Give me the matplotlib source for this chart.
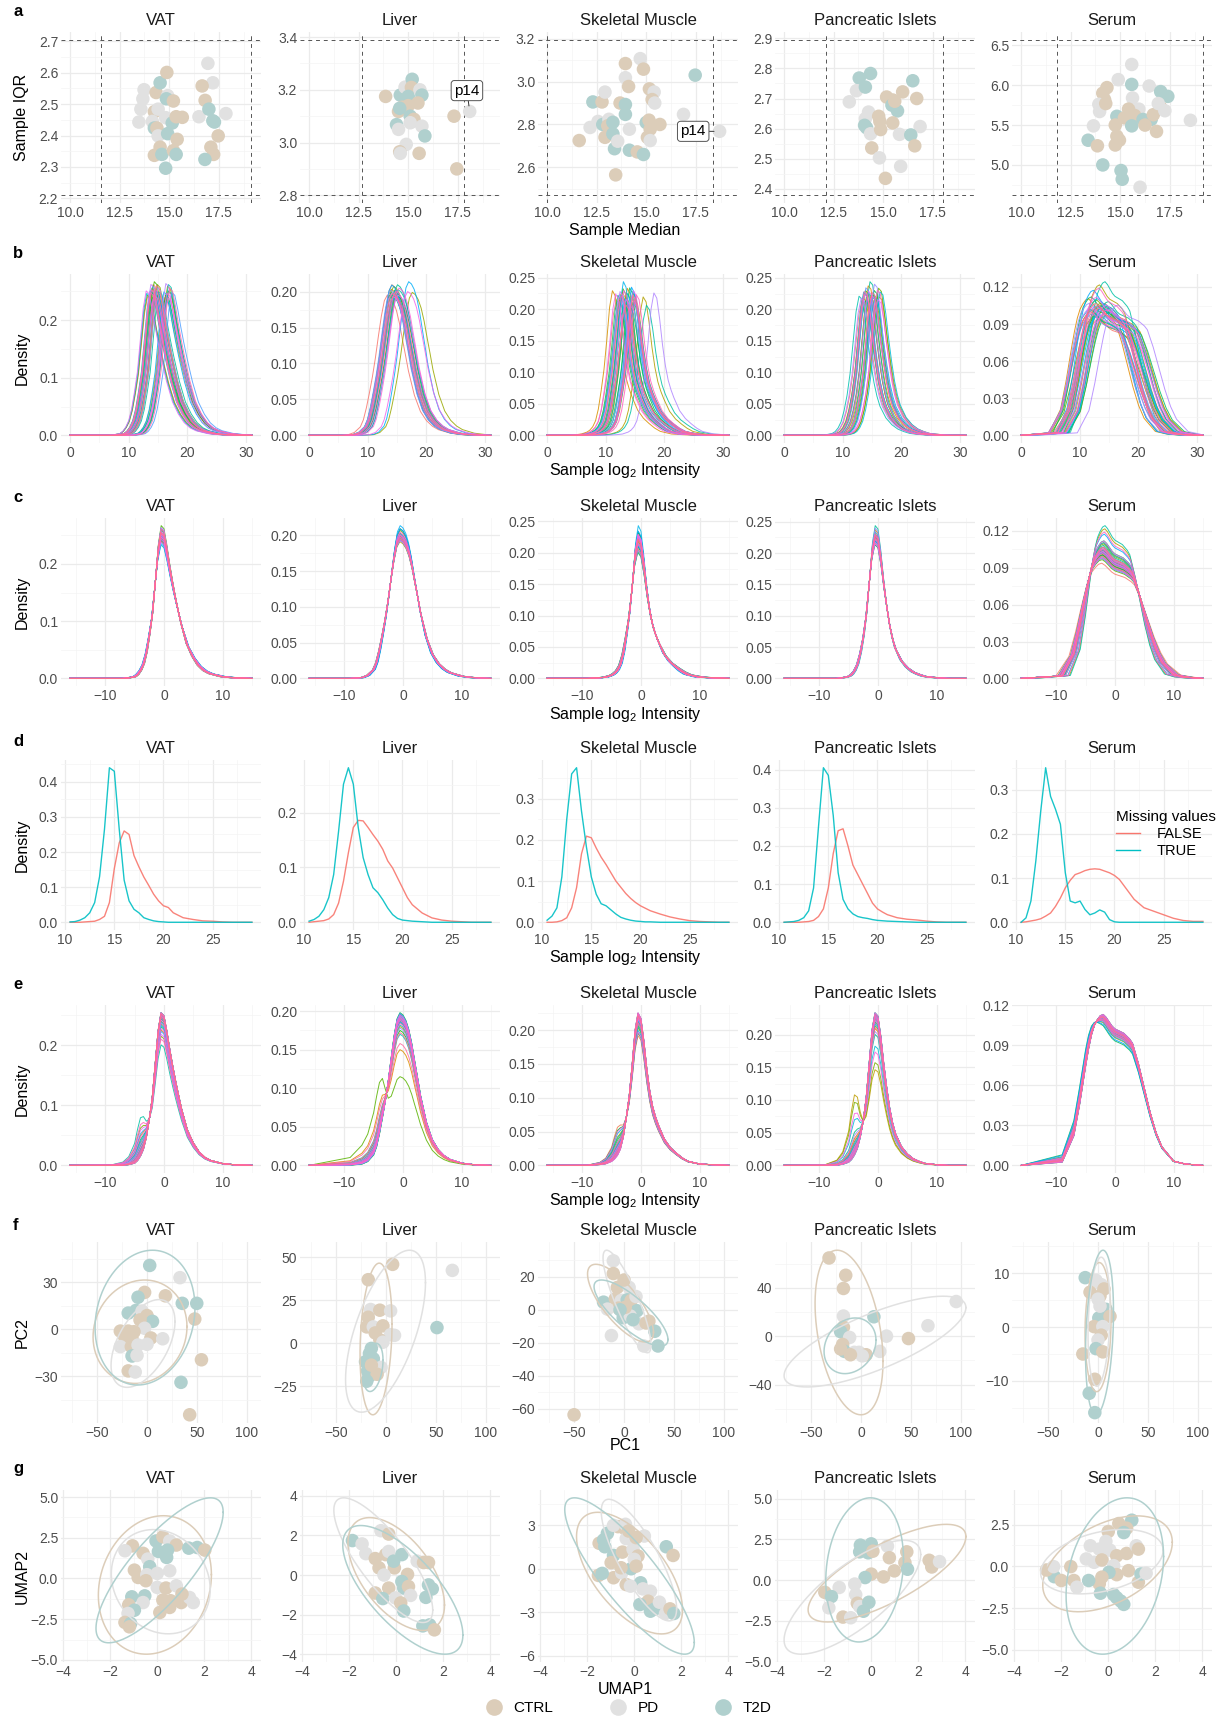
import numpy as np
import matplotlib
matplotlib.use('Agg')
import matplotlib.pyplot as plt
from matplotlib.lines import Line2D

# ---------------- data ----------------
TISSUES = ['VAT', 'Liver', 'Skeletal Muscle', 'Pancreatic Islets', 'Serum']
GROUP_COLORS = {'C': '#DCCDB9', 'P': '#E1E1E1', 'T': '#B0D0CE'}
GROUP_NAMES = ['CTRL', 'PD', 'T2D']

# a: sample median / IQR per sample
VAT_MED = [13.73, 13.67, 13.57, 13.47, 14.34, 14.54, 14.88, 14.25, 14.44, 14.15, 14.25, 14.38, 14.44, 14.54,
           14.25, 14.63, 14.82, 14.92, 14.86, 15.21, 14.82, 15.15, 14.92, 15.35, 15.66, 15.40, 15.21, 15.35,
           16.95, 17.20, 16.66, 16.81, 16.50, 17.00, 17.20, 17.28, 17.86, 17.47, 17.10, 17.24, 16.80]
VAT_IQR = [2.546, 2.517, 2.484, 2.443, 2.537, 2.568, 2.601, 2.476, 2.484, 2.445, 2.424, 2.424, 2.399, 2.363,
           2.337, 2.340, 2.296, 2.527, 2.517, 2.510, 2.457, 2.440, 2.406, 2.460, 2.458, 2.388, 2.352, 2.340,
           2.630, 2.568, 2.558, 2.512, 2.460, 2.484, 2.447, 2.443, 2.470, 2.399, 2.363, 2.340, 2.324]
VAT_GRP = list('PPPPCTCCPPTCPCCTTPTCPTTCCCCTPPCCPTTTPCCCT')

LIV_MED = [13.86, 14.60, 14.84, 15.20, 15.16, 15.00, 15.59, 15.69, 15.49, 15.00, 14.70, 14.51, 14.57, 15.10,
           15.20, 15.29, 15.10, 14.41, 14.51, 15.69, 15.84, 14.90, 14.57, 14.60, 15.55, 17.31, 18.10, 17.45]
LIV_IQR = [3.175, 3.180, 3.210, 3.240, 3.209, 3.175, 3.200, 3.180, 3.150, 3.140, 3.134, 3.118, 3.130, 3.100,
           3.080, 3.088, 3.075, 3.068, 3.050, 3.062, 3.025, 2.993, 2.965, 2.959, 2.959, 3.100, 3.118, 2.900]
LIV_GRP = list('CTPTCTPTCCCCTTPCPTPPTPCPCCPC')

SKM_MED = [12.31, 12.77, 12.92, 12.17, 11.62, 12.57, 12.81, 13.12, 13.06, 13.32, 12.92, 13.32, 13.40, 13.46,
           13.56, 13.95, 14.70, 14.86, 13.95, 14.11, 13.68, 13.95, 13.95, 15.16, 15.40, 15.30, 15.43, 14.15,
           15.00, 15.14, 15.20, 15.06, 15.20, 14.15, 14.55, 14.86, 15.69, 16.88, 17.47, 18.70]
SKM_IQR = [2.905, 2.905, 2.951, 2.786, 2.725, 2.814, 2.800, 2.824, 2.794, 2.810, 2.740, 2.756, 2.687, 2.565,
           2.722, 3.084, 3.107, 3.058, 3.018, 2.977, 2.900, 2.893, 2.847, 2.966, 2.951, 2.916, 2.900, 2.778,
           2.809, 2.820, 2.778, 2.740, 2.725, 2.680, 2.672, 2.660, 2.800, 2.847, 3.030, 2.768]
SKM_GRP = list('TCPPCPTPCTCTTCPCPCPCCTTCPCPPTCCCPTCTCPTP')

PAN_MED = [13.79, 14.36, 13.65, 14.10, 13.29, 14.26, 14.10, 14.06, 14.16, 14.36, 14.42, 14.77, 14.83, 14.87,
           15.17, 15.48, 15.44, 15.72, 15.98, 15.48, 15.82, 15.88, 14.81, 15.11, 16.49, 16.69, 16.86, 16.39,
           16.59, 15.58]
PAN_IQR = [2.768, 2.783, 2.726, 2.738, 2.689, 2.655, 2.633, 2.611, 2.603, 2.583, 2.536, 2.641, 2.624, 2.597,
           2.705, 2.695, 2.678, 2.659, 2.722, 2.619, 2.581, 2.475, 2.503, 2.435, 2.759, 2.700, 2.607, 2.579,
           2.543, 2.691]
PAN_GRP = list('TTPTPPPTTPCCCCCCTTCCPPPCTCPTCC')

SER_MED = [15.58, 14.90, 15.58, 16.46, 17.04, 17.40, 14.33, 14.12, 14.21, 13.92, 13.96, 14.27, 15.62, 15.94,
           15.42, 15.73, 15.52, 14.83, 15.21, 15.58, 16.15, 16.56, 16.25, 16.67, 17.04, 16.92, 17.25, 16.83,
           13.65, 14.75, 14.83, 14.96, 14.75, 13.38, 13.85, 14.12, 15.04, 15.10, 16.00, 18.54]
SER_IQR = [6.26, 6.07, 6.01, 5.99, 5.92, 5.86, 5.97, 5.90, 5.82, 5.76, 5.67, 5.77, 5.84, 5.70, 5.70, 5.62,
           5.59, 5.61, 5.59, 5.49, 5.57, 5.57, 5.50, 5.63, 5.72, 5.77, 5.68, 5.42, 5.49, 5.50, 5.36, 5.31,
           5.25, 5.31, 5.24, 5.00, 4.93, 4.82, 4.72, 5.56]
SER_GRP = list('PPTPTTCCCPPCPPCCCTCTTTCCCPPCPCCCCTCTTTPP')

A_MED = [VAT_MED, LIV_MED, SKM_MED, PAN_MED, SER_MED]
A_IQR = [VAT_IQR, LIV_IQR, SKM_IQR, PAN_IQR, SER_IQR]
A_GRP = [VAT_GRP, LIV_GRP, SKM_GRP, PAN_GRP, SER_GRP]
A_VLINES = [(11.55, 19.1), (12.65, 17.8), (10.0, 18.36), (12.13, 18.01), (11.83, 19.17)]
A_HLINES = [(2.21, 2.705), (2.80, 3.39), (2.47, 3.195), (2.379, 2.895), (4.62, 6.57)]
A_OUTLIER = [None, 26, 39, None, None]   # index of sample p14
A_XT = [10, 12.5, 15, 17.5]
A_YT = [[2.2, 2.3, 2.4, 2.5, 2.6, 2.7], [2.8, 3.0, 3.2, 3.4], [2.6, 2.8, 3.0, 3.2],
        [2.4, 2.5, 2.6, 2.7, 2.8, 2.9], [5.0, 5.5, 6.0, 6.5]]

# b/c/e: density shape of a sample around its median
XC = [-16, -9, -7, -6, -5, -4.5, -4, -3.5, -3, -2.5, -2, -1.5, -1, -0.5, 0, 0.5, 1, 1.5, 2, 2.5, 3,
      4, 5, 6, 7, 8, 10, 12, 15]
T_VAT = [0, 0, 0, 0.001, 0.003, 0.007, 0.014, 0.025, 0.045, 0.075, 0.11, 0.165, 0.22, 0.25, 0.245, 0.22,
         0.19, 0.163, 0.138, 0.115, 0.093, 0.058, 0.037, 0.022, 0.013, 0.008, 0.003, 0.001, 0]
T_LIV = [0, 0, 0.001, 0.004, 0.012, 0.022, 0.039, 0.06, 0.083, 0.11, 0.141, 0.17, 0.192, 0.2, 0.197, 0.19,
         0.178, 0.16, 0.137, 0.115, 0.092, 0.057, 0.034, 0.021, 0.013, 0.008, 0.003, 0.001, 0]
T_SKM = [0, 0, 0.001, 0.002, 0.005, 0.008, 0.013, 0.022, 0.04, 0.068, 0.1, 0.145, 0.195, 0.22, 0.212, 0.18,
         0.14, 0.108, 0.085, 0.07, 0.058, 0.038, 0.026, 0.018, 0.011, 0.006, 0.002, 0.001, 0]
T_PAN = [0, 0, 0, 0.001, 0.003, 0.006, 0.012, 0.022, 0.04, 0.065, 0.1, 0.15, 0.2, 0.225, 0.22, 0.19, 0.15,
         0.115, 0.085, 0.063, 0.047, 0.028, 0.017, 0.01, 0.006, 0.003, 0.001, 0, 0]
T_SER = [0, 0.002, 0.02, 0.042, 0.068, 0.08, 0.09, 0.097, 0.101, 0.104, 0.105, 0.103, 0.1, 0.097, 0.095,
         0.094, 0.093, 0.092, 0.09, 0.088, 0.085, 0.071, 0.054, 0.037, 0.023, 0.013, 0.003, 0.001, 0]
TEMPLATES = [T_VAT, T_LIV, T_SKM, T_PAN, T_SER]

# e: imputed low-intensity bump (shape) and bump height per sample
B_STD = [0, 0.01, 0.08, 0.2, 0.5, 0.8, 1.0, 0.9, 0.55, 0.25, 0.1, 0.03, 0.01] + [0] * 16
B_LIV = [0, 0.12, 0.3, 0.45, 0.72, 0.9, 1.0, 0.92, 0.6, 0.28, 0.1, 0.03, 0.01] + [0] * 16
B_SER = [0, 0.3, 0.7, 0.9, 1.0, 0.95, 0.8, 0.6, 0.4, 0.2, 0.08, 0.02, 0] + [0] * 16
E_BUMPSHAPE = [B_STD, B_LIV, B_STD, B_STD, B_SER]
E_BUMP_VAT = [0.003, 0.01, 0.002, 0.024, 0.006, 0.037, 0.001, 0.014, 0.004, 0.018, 0.05, 0.002, 0.01,
              0.007, 0.03, 0.002, 0.013, 0.005, 0.068, 0.02, 0.003, 0.009, 0.027, 0.001, 0.012, 0.006,
              0.04, 0.002, 0.022, 0.008, 0.002, 0.016, 0.046, 0.004, 0.034, 0.001, 0.056, 0.007, 0.011, 0.003]
E_BUMP_LIV = [0.012, 0.004, 0.008, 0.05, 0.02, 0.003, 0.015, 0.006, 0.01, 0.085, 0.025, 0.002, 0.013,
              0.005, 0.018, 0.009, 0.03, 0.004, 0.011, 0.007, 0.014, 0.003, 0.022, 0.006, 0.01, 0.008,
              0.016, 0.005, 0.012, 0.009, 0.042, 0.028]
E_BUMP_SKM = [0.01, 0.045, 0.004, 0.02, 0.007, 0.03, 0.002, 0.015, 0.012, 0.005, 0.025, 0.003, 0.04, 0.009,
              0.018, 0.006, 0.028, 0.002, 0.013, 0.008, 0.035, 0.004, 0.016, 0.01, 0.022, 0.003, 0.006,
              0.014, 0.001, 0.009, 0.038, 0.005, 0.011, 0.002, 0.02, 0.007]
E_BUMP_PAN = [0.02, 0.006, 0.012, 0.03, 0.004, 0.1, 0.015, 0.008, 0.088, 0.025, 0.01, 0.003, 0.018, 0.04,
              0.006, 0.012, 0.005, 0.06, 0.009, 0.022, 0.004, 0.014, 0.007, 0.035, 0.01, 0.003, 0.016, 0.07,
              0.008, 0.012, 0.005, 0.028]
E_BUMP_SER = [0.004, 0.01, 0.002, 0.006, 0.015, 0.003, 0.008, 0.001, 0.012, 0.005, 0.002, 0.009, 0.004,
              0.02, 0.006, 0.003, 0.011, 0.007, 0.002, 0.014, 0.005, 0.008, 0.001, 0.018, 0.004, 0.006,
              0.003, 0.01, 0.002, 0.007, 0.005, 0.012, 0.001, 0.009, 0.004, 0.006]
E_BUMPS = [E_BUMP_VAT, E_BUMP_LIV, E_BUMP_SKM, E_BUMP_PAN, E_BUMP_SER]
E_BASE = [1.02, 1.0, 1.03, 1.05, 1.08]
E_K = [3.2, 5.0, 3.5, 4.0, 5.0]

BC_YT = [[0, 0.1, 0.2], [0, 0.05, 0.10, 0.15, 0.20], [0, 0.05, 0.10, 0.15, 0.20, 0.25],
         [0, 0.05, 0.10, 0.15, 0.20, 0.25], [0, 0.03, 0.06, 0.09, 0.12]]
E_YT = [[0, 0.1, 0.2], [0, 0.05, 0.10, 0.15, 0.20], [0, 0.05, 0.10, 0.15, 0.20],
        [0, 0.05, 0.10, 0.15, 0.20], [0, 0.03, 0.06, 0.09, 0.12]]

# d: density of proteins with / without missing values
XD = [10.5, 11, 11.5, 12, 12.5, 13, 13.5, 14, 14.5, 15, 15.5, 16, 16.5, 17, 17.5, 18, 18.5, 19, 19.5, 20,
      20.5, 21, 22, 23, 24, 25, 26, 27, 28, 29]
D_TRUE = [
    [0.001, 0.002, 0.006, 0.013, 0.027, 0.056, 0.13, 0.265, 0.44, 0.43, 0.265, 0.12, 0.061, 0.037, 0.027,
     0.013, 0.008, 0.004, 0.002, 0.001, 0, 0, 0, 0, 0, 0, 0, 0, 0, 0],
    [0.002, 0.005, 0.011, 0.023, 0.045, 0.087, 0.166, 0.252, 0.282, 0.252, 0.173, 0.118, 0.087, 0.063, 0.054,
     0.041, 0.026, 0.014, 0.007, 0.004, 0.003, 0.002, 0.001, 0, 0, 0, 0, 0, 0, 0],
    [0.005, 0.015, 0.035, 0.11, 0.25, 0.36, 0.375, 0.27, 0.183, 0.11, 0.068, 0.045, 0.04, 0.03, 0.02, 0.012,
     0.008, 0.005, 0.003, 0.002, 0.001, 0.001, 0, 0, 0, 0, 0, 0, 0, 0],
    [0, 0.001, 0.002, 0.005, 0.012, 0.03, 0.09, 0.25, 0.405, 0.385, 0.28, 0.13, 0.06, 0.035, 0.022, 0.015,
     0.012, 0.01, 0.007, 0.005, 0.004, 0.003, 0.002, 0.001, 0, 0, 0, 0, 0, 0],
    [0, 0.01, 0.048, 0.139, 0.252, 0.35, 0.285, 0.256, 0.222, 0.112, 0.048, 0.044, 0.048, 0.029, 0.017,
     0.021, 0.028, 0.023, 0.006, 0.001, 0, 0, 0, 0, 0, 0, 0, 0, 0, 0],
]
D_FALSE = [
    [0, 0, 0, 0.001, 0.002, 0.003, 0.008, 0.017, 0.056, 0.153, 0.226, 0.26, 0.25, 0.19, 0.158, 0.129, 0.105,
     0.08, 0.061, 0.047, 0.042, 0.027, 0.013, 0.008, 0.004, 0.003, 0.001, 0, 0, 0],
    [0, 0.001, 0.002, 0.003, 0.006, 0.014, 0.035, 0.075, 0.127, 0.173, 0.186, 0.185, 0.173, 0.16, 0.148,
     0.133, 0.112, 0.099, 0.081, 0.063, 0.045, 0.032, 0.017, 0.008, 0.004, 0.002, 0.001, 0, 0, 0],
    [0, 0, 0.001, 0.004, 0.011, 0.035, 0.084, 0.166, 0.209, 0.205, 0.18, 0.158, 0.14, 0.12, 0.1, 0.085, 0.07,
     0.058, 0.048, 0.04, 0.034, 0.028, 0.02, 0.013, 0.008, 0.004, 0.002, 0.001, 0, 0],
    [0, 0, 0, 0, 0.001, 0.002, 0.005, 0.015, 0.035, 0.09, 0.18, 0.24, 0.245, 0.2, 0.15, 0.125, 0.1, 0.075,
     0.05, 0.035, 0.027, 0.02, 0.012, 0.008, 0.006, 0.003, 0.001, 0, 0, 0],
    [0, 0.001, 0.003, 0.005, 0.008, 0.014, 0.021, 0.036, 0.055, 0.078, 0.095, 0.108, 0.112, 0.117, 0.12,
     0.121, 0.12, 0.116, 0.112, 0.106, 0.097, 0.082, 0.052, 0.033, 0.025, 0.017, 0.009, 0.004, 0.002, 0.002],
]
D_YT = [[0, 0.1, 0.2, 0.3, 0.4], [0, 0.1, 0.2], [0, 0.1, 0.2, 0.3], [0, 0.1, 0.2, 0.3, 0.4], [0, 0.1, 0.2, 0.3]]

# f: PCA
F_PC1 = [
    [2.7, 33, -2.4, -9, 18.4, 35.3, 49.8, -18.8, -11, -5, 0, 5.5, -7, -2.4, -26.7, -18.8, -13, -22.7, -15, 3.9,
     15.7, 47.8, -26.7, -15.7, -9, 0, -15, -10, 54.5, -18.8, -11.8, 34, 42.7],
    [6.6, -17.8, 66.4, -15.4, -6.2, 4.6, -17.8, -19.3, -12.7, -3.1, -10.8, 4.6, 8.5, -6.2, -3.1, 51, -14.7,
     -16.6, -12.7, -20.5, -14.7, -18.5, -10.8, -5, -16.6, -8.9, -19.3, -14.7],
    [-10.7, -10.7, -6.7, 5.1, -20.5, -8.7, -2.8, 3.2, 7.1, 13, -0.8, 6.3, 15, 22, 24.9, 30.8, 34, -12.6, 19.8,
     -5.5, -16.6, 1.2, -50, 0, -4, 9, 12],
    [-32, -15.3, -17.6, -17.6, -17.6, -20.4, 12.9, -11.4, 25.5, 47.5, 67, 95.3, -18.4, -16.5, -6.7, -2, 5.1,
     1.2, 18.8, -10.6, -20.4],
    [-12.8, -2, 3.2, -8, 6, 2, 0, 8, 0.8, 12, -4, 4.8, 3.2, 0, -2, 4.8, -15.2, -3.2, -8.8, -3.2, 2],
]
F_PC2 = [
    [40.8, 33, 23.6, 20.5, 21.4, 16.6, 16.6, 10.4, 12.1, 11.7, 8.8, 5.1, 6, 0.7, -1.1, -1.1, -1.5, -4.4, -6,
     -5.5, -6, 6.6, -11, -11, -10, -9.5, -17, -16.6, -19.4, -26.5, -27.2, -33.8, -54.5],
    [45.8, 36.9, 42.3, 19.6, 19.2, 18.8, 15.1, 9.5, 9.5, 10.1, 6, 5, 4.6, 2, 0.6, 9.1, -3, -6, -9, -10.7,
     -13.5, -16, -17.5, -14, -19, -18, -22, -12.7],
    [29.6, 21.9, 13.5, 13.5, 4.6, 6.7, 5.6, 6, 5.6, -0.6, -4.8, -3.75, -8.5, -8, -6.9, -13, -21.9, -15.6,
     -21.9, 1, 0.4, 1.5, -63.5, 18, 0, -6, 8],
    [64.6, 50.3, 39.4, 16.6, 7.4, 3.7, 16, -1.1, 0, -2, 8.6, 28.6, -6.9, -12.6, -13.4, -13.4, -15.4, -16.3,
     -12.6, -15.4, -10.6],
    [9.2, 8.7, 7.9, 6.5, 7.1, 5.8, 5.2, 3.3, 1.7, 2, 0.1, 0.1, -1.5, -2.4, -4, -4.6, -5, -9.7, -12.3, -15.9, 3.9],
]
F_GRP = [list('TPCTCTTTTPCTCPCCCCCCPCPCPPTPCCPTC'), list('CCPPCPCCPCCPPCPTTTTTTTCPTCTC'),
         list('PCCPTCPTCTTPPCCTTPPCPCCCTTP'), list('CCCPCTTPPCPPCTPPCPPCC'),
         list('TPPCCCPTTCCPCPTCCCTTP')]
# ellipses: centre x, centre y, half-width, half-height, tilt (order CTRL, PD, T2D)
F_ELL = [
    [(-7, -1.5, 47, 33, 0.1), (-4, -9, 32, 28, 0.5), (-2, 7.5, 50, 43, 0.15)],
    [(-10, 2.5, 16, 44, 0.2), (-0.5, 7, 40, 47, 0.6), (-13, -14, 10, 14, 0.3)],
    [(-3.5, 4, 33, 23.5, -0.75), (3, 5, 24, 31, -0.85), (7, -2, 37, 20, -0.8)],
    [(-12, 3, 34, 68, -0.35), (14, -4.5, 91, 37.5, 0.75), (-11, -8, 26, 23, 0.2)],
    [(0, 0, 13, 12, 0.1), (1, 1, 11, 12, 0.2), (1.5, -1, 14, 15.3, 0.25)],
]
F_XT = [-50, 0, 50, 100]
F_YT = [[-30, 0, 30], [-25, 0, 25, 50], [-60, -40, -20, 0, 20], [-40, 0, 40], [-10, 0, 10]]

# g: UMAP
G_U1 = [
    [-1.05, -1.37, -0.6, -0.4, -0.05, 0.24, 0.53, 0.81, 0.05, 0.44, 0.4, -0.32, -0.97, -0.81, -0.44, -0.48, 0,
     0.53, 1.34, 1.7, 2.02, 0, 0.37, 0.81, -1.08, -0.53, -0.6, 0.24, 0.57, 1.02, 1.37, 1.53, 1.05, -1.21,
     -0.97, 0.11, 0.53, -1.24, -1.37, -1.13, -1.18],
    [-1.86, -1.45, -1.29, -0.65, -0.32, -0.89, -0.73, -0.45, -0.32, -0.08, -0.11, 0.24, -0.52, 0.48, 0.24,
     0.32, 0.52, 0.61, -0.32, -0.89, -0.57, -0.03, 0.19, 0.32, 0.89, 1.16, 1.37, 1.37, 1.53, 1.26, 1.13,
     1.42, 1.62],
    [-1.49, -1.3, -1.14, -1.25, -0.88, -0.69, -0.4, -0.34, -0.5, -0.98, -0.88, -0.53, -1.52, -1.36, -0.34,
     -0.13, -0.88, -0.37, -0.24, 0.43, -0.05, 0.08, 0.16, 0, -0.56, 0.08, 1.36, 1.65, 0.27, -0.16, 0.37,
     0.69, 0.59, 0.24, 0.69, 0.88, 1.07, 1.33, 1.52, 1.68],
    [-0.46, 0, -0.49, -0.13, 0.07, 0.69, 1.51, 0.77, 1.43, 1.54, 2.46, 2.57, 2.9, 0, 0.52, 0.98, -0.26, -1.36,
     -1.97, -1.69, -0.7, -0.66, -0.59, -0.49, -0.1, -0.33, -1.8, -1.2, -0.87],
    [1.0, 0.45, 0.78, 0.66, 0, -0.1, -0.76, -0.38, 0.07, 0.36, 0.78, 1.19, 1.28, -0.93, -0.6, -0.27, 0.23,
     0.86, 0.36, 0.03, -0.27, -0.38, -0.83, -2.29, -2.62, -2.32, -1.59, -1.99, -1.46, -1.33, -0.33, 0.23,
     0.36, 0.53, 0.66, 1.28, 1.39, 1.61],
]
G_U2 = [
    [2.0, 1.7, 1.54, 1.19, 2.3, 2.56, 2.3, 2.05, 1.66, 1.74, 1.29, 0.72, 0.51, 0.06, 0.23, -0.14, 0.31, 0.47,
     1.86, 1.9, 1.74, -0.55, -0.59, -0.45, -1.13, -1.07, -1.48, -1.33, -1.37, -1.48, -1.17, -1.48, -0.96,
     -1.62, -1.95, -2.09, -1.78, -2.15, -2.7, -2.77, -2.97],
    [1.74, 1.57, 1.08, 2.24, 2.07, 0.83, 0.36, 1.03, 1.19, 0.36, 0.7, 1.03, 0, 0.03, -0.33, -0.66, -0.58,
     -1.03, -0.66, -0.91, -1.19, -1.16, -1.41, -1.82, 0.7, 0.63, 0.63, -0.5, -0.7, -1.13, -2.57, -2.52, -2.77],
    [1.76, 1.99, 2.45, 1.52, 0.92, 2.91, 2.77, 2.08, 1.15, 0.42, -0.62, -0.28, -0.46, -0.32, -1.09, 0, 3.0,
     3.07, 2.61, 2.26, 1.34, 2.15, 0.88, 0.65, 0.07, 0.18, 1.52, 0.92, -0.97, -1.2, -1.39, -1.55, -2.24,
     -2.47, -2.93, -2.77, -2.31, -3.09, -2.77, -3.09],
    [2.15, 2.23, 1.74, 1.68, 1.78, 2.09, 1.74, 1.38, 1.08, 0.67, 1.22, 0.81, 1.14, 0.37, 0.2, 0.57, 0.16,
     -0.45, -0.75, -1.01, -0.24, -0.89, -1.42, -1.62, -1.36, -1.91, -1.7, -2.27, -2.31],
    [2.76, 2.56, 2.28, 2.02, 2.08, 1.49, 1.23, 1.03, 0.97, 0.63, 0.77, 1.23, 1.03, 0.44, 0.24, 0.38, 0.04,
     -0.26, -0.5, -0.36, -0.65, -1.05, -0.85, -0.62, -0.22, -0.02, -0.02, -0.85, -0.85, -1.25, -1.61, -1.69,
     -1.88, -2.08, -2.28, -0.95, -0.46, -0.42],
]
G_GRP = [list('CPCPTCPCTTTTCCPCPPTTCPCPTTPCCCPPCCTCCPCTC'), list('TPPPCCCCPCTTPCTTCPCCTPCTPCCTTTTTC'),
         list('CTTTTCCPCCCPCTCTPPCPPCCPCCTCTPPPCTTTPPCT'), list('TTTTCPCCCTCCPCCCTPCTPPCPTTPCP'),
         list('TCCTCPPPPCCPCPPCPCCTCCTTCPCCCPTTTTTCTP')]
G_ELL = [
    [(-0.1, -0.4, 2.4, 4.25, 0.15), (0.15, -0.2, 2.1, 3.2, -0.15), (0.1, 0.5, 2.7, 4.45, 0.8)],
    [(0, 0.05, 2.05, 2.85, -0.55), (-0.55, 0.75, 2.1, 3.15, -0.8), (0.28, -0.75, 2.55, 3.25, -0.7)],
    [(-0.2, -0.3, 2.25, 4.2, -0.6), (0.2, 0.6, 1.6, 4.2, -0.8), (-0.2, -0.5, 2.75, 5.4, -0.85)],
    [(0.67, 0.43, 3.35, 3.0, 0.75), (-0.8, -1.05, 2.9, 3.5, 0.75), (-0.28, 0.63, 1.65, 4.43, 0.15)],
    [(-0.03, 0.15, 2.75, 2.87, 0.45), (-0.27, 0.28, 2.6, 1.93, 0.35), (0.28, -0.58, 2.07, 4.68, 0.25)],
]
G_XT = [-4, -2, 0, 2, 4]
G_YT = [[-5.0, -2.5, 0.0, 2.5, 5.0], [-4, -2, 0, 2, 4], [-6, -3, 0, 3], [-5.0, -2.5, 0.0, 2.5, 5.0],
        [-5.0, -2.5, 0.0, 2.5]]

# ---------------- layout / helpers ----------------
W, H = 1226, 1719
plt.rcParams['font.family'] = ['Liberation Sans', 'DejaVu Sans']
plt.rcParams['mathtext.fontset'] = 'custom'
plt.rcParams['mathtext.rm'] = 'Liberation Sans'
plt.rcParams['mathtext.it'] = 'Liberation Sans:italic'

fig = plt.figure(figsize=(W / 100, H / 100), dpi=100)
fig.patch.set_facecolor('white')

COL_LEFT = [61, 300, 538, 775, 1012]
COL_W = 200
ROWS = {'a': (32, 203), 'b': (274, 443), 'c': (518, 686), 'd': (760, 930),
        'e': (1005, 1173), 'f': (1242, 1423), 'g': (1490, 1662)}
LETTER_Y = {'a': 12, 'b': 254, 'c': 498, 'd': 741, 'e': 984, 'f': 1226, 'g': 1469}
XLAB_Y = {'a': 230, 'b': 470, 'c': 714, 'd': 957, 'e': 1200, 'f': 1446, 'g': 1689}
XLAB = {'a': 'Sample Median', 'b': 'Sample log$_{2}$ Intensity', 'c': 'Sample log$_{2}$ Intensity',
        'd': 'Sample log$_{2}$ Intensity', 'e': 'Sample log$_{2}$ Intensity', 'f': 'PC1', 'g': 'UMAP1'}
YLAB = {'a': 'Sample IQR', 'b': 'Density', 'c': 'Density', 'd': 'Density', 'e': 'Density',
        'f': 'PC2', 'g': 'UMAP2'}
TICK_COL = '#4D4D4D'
LINE_RED, LINE_CYAN = '#F8766D', '#00BFC4'


def hcl_hex(h, c=100, l=65):
    hr = np.deg2rad(h)
    u, v = c * np.cos(hr), c * np.sin(hr)
    xn, yn, zn = 95.047, 100.0, 108.883
    un = 4 * xn / (xn + 15 * yn + 3 * zn)
    vn = 9 * yn / (xn + 15 * yn + 3 * zn)
    y = yn * ((l + 16) / 116) ** 3
    up, vp = u / (13 * l) + un, v / (13 * l) + vn
    x = y * 9 * up / (4 * vp)
    z = y * (12 - 3 * up - 20 * vp) / (4 * vp)
    x, y, z = x / 100, y / 100, z / 100
    rgb = [3.2404542 * x - 1.5371385 * y - 0.4985314 * z,
           -0.9692660 * x + 1.8760108 * y + 0.0415560 * z,
           0.0556434 * x - 0.2040259 * y + 1.0572252 * z]
    out = []
    for t in rgb:
        t = 12.92 * t if t <= 0.0031308 else 1.055 * max(t, 0) ** (1 / 2.4) - 0.055
        out.append(min(max(t, 0), 1))
    return tuple(out)


def hue_pal(n):
    return [hcl_hex(h) for h in np.linspace(15, 375, n + 1)[:-1]]


def sample_colours(n):
    # sample ids are not in median order: spread the hue palette over the list,
    # and return the drawing order (ggplot draws groups in palette order)
    pal = hue_pal(n)
    idx = [(j * 11) % n for j in range(n)]
    return [pal[k] for k in idx], list(np.argsort(idx))


def fmt(vals):
    d = 0
    for v in vals:
        s = f'{v:g}'
        if '.' in s:
            d = max(d, len(s.split('.')[1]))
    return [f'{v:.{d}f}'.replace('-', '\u2212') for v in vals]


def expand(lo, hi, f=0.05):
    d = (hi - lo) * f
    return (lo - d, hi + d)


def minors(ticks, lim):
    step = ticks[1] - ticks[0]
    m = np.arange(ticks[0] - step / 2, lim[1], step)
    return m[(m > lim[0]) & (m < lim[1])]


def make_ax(row, col):
    top, bot = ROWS[row]
    return fig.add_axes([COL_LEFT[col] / W, 1 - bot / H, COL_W / W, (bot - top) / H])


def style(ax, xt, yt, xlim, ylim, title):
    ax.set_xlim(xlim)
    ax.set_ylim(ylim)
    ax.set_xticks(xt, labels=fmt(xt))
    ax.set_yticks(yt, labels=fmt(yt))
    ax.set_xticks(minors(xt, xlim), minor=True)
    ax.set_yticks(minors(yt, ylim), minor=True)
    ax.grid(True, which='major', color='#EBEBEB', lw=0.9)
    ax.grid(True, which='minor', color='#F4F4F4', lw=0.5)
    ax.set_axisbelow(True)
    for sp in ax.spines.values():
        sp.set_visible(False)
    ax.tick_params(which='both', length=0)
    ax.tick_params(labelsize=10, labelcolor=TICK_COL, pad=2)
    ax.set_title(title, fontsize=12, color='#1A1A1A', pad=5)


def row_labels(row):
    top, bot = ROWS[row]
    fig.text(13 / W, 1 - LETTER_Y[row] / H, row, fontsize=12, fontweight='bold', va='center', ha='left')
    fig.text(625 / W, 1 - XLAB_Y[row] / H, XLAB[row], fontsize=11.5, ha='center', va='center')
    fig.text(22 / W, 1 - (top + bot) / 2 / H, YLAB[row], fontsize=11.5, ha='center', va='center',
             rotation=90)


def ellipse_xy(cx, cy, a, b, r):
    t = np.linspace(0, 2 * np.pi, 240)
    return cx + a * np.cos(t), cy + b * (r * np.cos(t) + np.sqrt(1 - r * r) * np.sin(t))


# ---------------- row a ----------------
allx = [v for m in A_MED for v in m] + [v for p in A_VLINES for v in p]
A_XLIM = expand(min(allx), max(allx))
for i, t in enumerate(TISSUES):
    ax = make_ax('a', i)
    ax.scatter(A_MED[i], A_IQR[i], s=95, c=[GROUP_COLORS[g] for g in A_GRP[i]], edgecolors='none', zorder=2)
    for v in A_VLINES[i]:
        ax.axvline(v, color='#555555', lw=0.7, ls=(0, (4, 4)), zorder=1)
    for v in A_HLINES[i]:
        ax.axhline(v, color='#555555', lw=0.7, ls=(0, (4, 4)), zorder=1)
    ys = list(A_IQR[i]) + list(A_HLINES[i])
    style(ax, A_XT, A_YT[i], A_XLIM, expand(min(ys), max(ys)), t)
    k = A_OUTLIER[i]
    if k is not None:
        off = (-2, 15) if i == 1 else (-19, 0)
        ax.annotate('p14', xy=(A_MED[i][k], A_IQR[i][k]), xytext=off, textcoords='offset points',
                    ha='center', va='center', fontsize=11, zorder=4,
                    bbox=dict(boxstyle='round,pad=0.2', fc='white', ec='#555555', lw=0.7),
                    arrowprops=dict(arrowstyle='-', color='#333333', lw=0.7, shrinkA=0, shrinkB=4))
row_labels('a')

XC_A = np.array(XC)

# ---------------- row b ----------------
for i, t in enumerate(TISSUES):
    ax = make_ax('b', i)
    med, iqr = np.array(A_MED[i]), np.array(A_IQR[i])
    tpl = np.array(TEMPLATES[i])
    cols, order = sample_colours(len(med))
    ymax = 0
    for j in order:
        s = iqr[j] / iqr.mean()
        x = med[j] + XC_A * s
        y = tpl / s
        keep = (x > 0) & (x < 31)
        x = np.concatenate([[0], x[keep], [31]])
        y = np.concatenate([[0], y[keep], [0]])
        ymax = max(ymax, y.max())
        ax.plot(x, y, color=cols[j], lw=0.7, alpha=0.85)
    style(ax, [0, 10, 20, 30], BC_YT[i], expand(0, 31), expand(0, ymax), t)
row_labels('b')

# ---------------- row c ----------------
for i, t in enumerate(TISSUES):
    ax = make_ax('c', i)
    iqr = np.array(A_IQR[i])
    tpl = np.array(TEMPLATES[i])
    cols, order = sample_colours(len(iqr))
    ymax = 0
    for j in order:
        s = iqr[j] / iqr.mean()
        x = XC_A * s
        y = tpl / s
        keep = (x > -16) & (x < 15)
        x = np.concatenate([[-16], x[keep], [15]])
        y = np.concatenate([[0], y[keep], [0]])
        ymax = max(ymax, y.max())
        ax.plot(x, y, color=cols[j], lw=0.7, alpha=0.85)
    style(ax, [-10, 0, 10], BC_YT[i], expand(-16, 15), expand(0, ymax), t)
row_labels('c')

# ---------------- row d ----------------
for i, t in enumerate(TISSUES):
    ax = make_ax('d', i)
    ax.plot(XD, D_FALSE[i], color=LINE_RED, lw=1.0, alpha=0.9)
    ax.plot(XD, D_TRUE[i], color=LINE_CYAN, lw=1.0, alpha=0.9)
    ymax = max(max(D_FALSE[i]), max(D_TRUE[i]))
    style(ax, [10, 15, 20, 25], D_YT[i], expand(XD[0], XD[-1]), expand(0, ymax), t)
row_labels('d')
fig.legend([Line2D([], [], color=LINE_RED, lw=1.0), Line2D([], [], color=LINE_CYAN, lw=1.0)],
           ['FALSE', 'TRUE'], title='Missing values', loc='upper left',
           bbox_to_anchor=(1106 / W, 1 - 800 / H), frameon=False, fontsize=10.5, title_fontsize=11,
           handlelength=1.6, handletextpad=1.2, labelspacing=0.2, alignment='left', borderpad=0.2)

# ---------------- row e ----------------
for i, t in enumerate(TISSUES):
    ax = make_ax('e', i)
    tpl = np.array(TEMPLATES[i])
    bump = np.array(E_BUMPSHAPE[i])
    hs = E_BUMPS[i]
    cols = hue_pal(len(hs))
    ymax = 0
    for j, h in enumerate(hs):
        m = E_BASE[i] - E_K[i] * h
        y = tpl * m + h * bump
        ymax = max(ymax, y.max())
        ax.plot(XC, y, color=cols[j], lw=0.7, alpha=0.85)
    style(ax, [-10, 0, 10], E_YT[i], expand(-16, 15), expand(0, ymax), t)
row_labels('e')


# ---------------- rows f, g ----------------
def scatter_row(row, xs, ys, grps, ells, xt, yts):
    allx = [v for p in xs for v in p] + [e[0] + sgn * e[2] for el in ells for e in el for sgn in (-1, 1)]
    xlim = expand(min(allx), max(allx))
    for i, t in enumerate(TISSUES):
        ax = make_ax(row, i)
        ax.scatter(xs[i], ys[i], s=95, c=[GROUP_COLORS[g] for g in grps[i]], edgecolors='none', zorder=2)
        yy = list(ys[i])
        for g, e in zip('CPT', ells[i]):
            ex, ey = ellipse_xy(*e)
            ax.plot(ex, ey, color=GROUP_COLORS[g], lw=1.1, zorder=3)
            yy += [e[1] - e[3], e[1] + e[3]]
        style(ax, xt, yts[i], xlim, expand(min(yy), max(yy)), t)
    row_labels(row)


scatter_row('f', F_PC1, F_PC2, F_GRP, F_ELL, F_XT, F_YT)
scatter_row('g', G_U1, G_U2, G_GRP, G_ELL, G_XT, G_YT)

handles = [Line2D([], [], marker='o', ls='', ms=12, mfc=GROUP_COLORS[g], mec='none') for g in 'CPT']
fig.legend(handles, GROUP_NAMES, loc='center', bbox_to_anchor=(625 / W, 1 - 1708 / H), ncol=3,
           frameon=False, fontsize=11, handletextpad=0.3, columnspacing=3.2, borderpad=0.1)

fig.savefig('out.png', dpi=100)
